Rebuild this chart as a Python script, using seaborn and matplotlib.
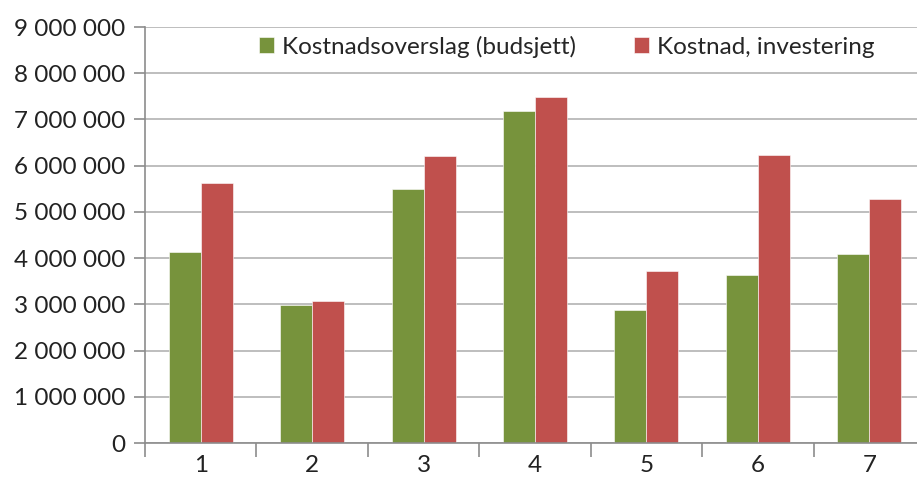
import pandas as pd
import matplotlib
matplotlib.use("Agg")
import matplotlib.pyplot as plt
import seaborn as sns
from matplotlib.ticker import FuncFormatter, MultipleLocator, FixedLocator

# Data
projects = ["1", "2", "3", "4", "5", "6", "7"]
budget = [4130000, 2990000, 5490000, 7180000, 2870000, 3640000, 4090000]
actual = [5620000, 3080000, 6210000, 7480000, 3720000, 6240000, 5270000]
series_names = ["Kostnadsoverslag (budsjett)", "Kostnad, investering"]
colors = ["#77933C", "#C0504D"]

sns.set_theme(style="white")
plt.rcParams["font.family"] = ["Lato", "DejaVu Sans"]

df = pd.DataFrame({
    "prosjekt": projects * 2,
    "verdi": budget + actual,
    "serie": [series_names[0]] * len(projects) + [series_names[1]] * len(projects),
})

fig = plt.figure(figsize=(9.17, 4.87), dpi=100)
ax = fig.add_axes([145 / 917, 1 - 443 / 487, 780 / 917, 416 / 487])

sns.barplot(data=df, x="prosjekt", y="verdi", hue="serie", palette=colors,
            width=0.575, gap=0, ax=ax, saturation=1, edgecolor="white", linewidth=0.4)

ax.set_ylim(0, 9000000)
ax.set_xlim(-0.5, 6.5)
ax.yaxis.set_major_locator(MultipleLocator(1000000))
ax.yaxis.set_major_formatter(FuncFormatter(lambda v, p: f"{int(v):,}".replace(",", " ")))
ax.grid(axis="y", color="#b3b3b3", linewidth=1.2)
ax.set_axisbelow(True)
ax.set_xlabel("")
ax.set_ylabel("")

fs = 17.5

# tick marks between categories
ax.xaxis.set_major_locator(FixedLocator(range(7)))
ax.set_xticklabels(projects)
ax.xaxis.set_minor_locator(FixedLocator([i - 0.5 for i in range(8)]))
ax.tick_params(axis="x", which="major", length=0, pad=9, labelsize=fs, colors="#222222")
ax.tick_params(axis="x", which="minor", length=10, width=1.2, color="#8c8c8c", direction="out")
ax.tick_params(axis="y", length=8, width=1.2, color="#8c8c8c", direction="out",
               labelsize=fs, labelcolor="#222222", pad=6)
ax.tick_params(bottom=True, left=True, which="both")

for side in ["top", "right"]:
    ax.spines[side].set_visible(False)
for side in ["left", "bottom"]:
    ax.spines[side].set_color("#8c8c8c")
    ax.spines[side].set_linewidth(1.2)

leg = ax.legend(loc="upper left", bbox_to_anchor=(0.143, 0.985), ncol=2, frameon=True,
                fontsize=fs, handlelength=0.6, handleheight=0.6, handletextpad=0.35,
                columnspacing=2.4, borderaxespad=0, borderpad=0.1, fancybox=False)
leg.get_frame().set_facecolor("white")
leg.get_frame().set_edgecolor("white")

fig.savefig("out.png", dpi=100)
